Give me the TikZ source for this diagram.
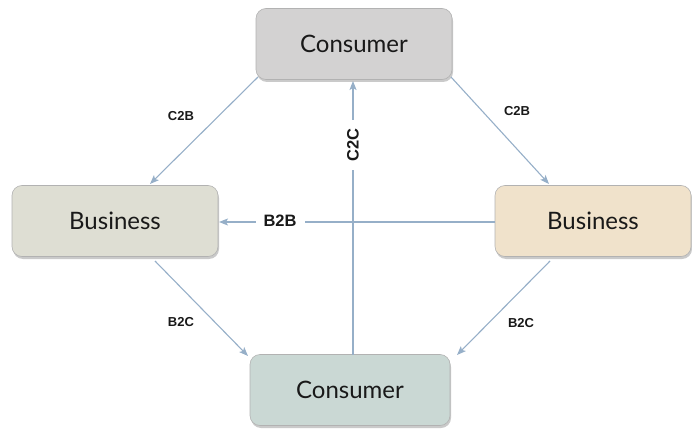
\documentclass[tikz,border=0pt]{standalone}
\usepackage{fontspec}
\setmainfont{Lato}
\newfontfamily\lblfont{Liberation Sans}
\usetikzlibrary{arrows.meta,shadows}
\definecolor{arrc}{RGB}{150,175,200}
\definecolor{topc}{RGB}{211,210,210}
\definecolor{lbc}{RGB}{222,222,211}
\definecolor{rbc}{RGB}{240,226,203}
\definecolor{bcc}{RGB}{202,216,212}
\tikzset{
  box/.style={rounded corners=10pt, draw=black!30, line width=0.6pt, minimum width=196pt, minimum height=71pt,
    font=\fontsize{24}{28}\selectfont, text=black!90,
    drop shadow={shadow xshift=1pt, shadow yshift=-2.5pt, opacity=0.35, fill=black!60}},
  arr/.style={draw=arrc, line width=1.1pt, -{Stealth[length=9pt,width=7pt,inset=2pt]}},
  sml/.style={font=\lblfont\bfseries\fontsize{13}{15}\selectfont, text=black!90},
  big/.style={font=\lblfont\bfseries\fontsize{16.5}{19}\selectfont, fill=white, text=black!90}
}
\begin{document}
\begin{tikzpicture}[x=1pt,y=-1pt]
\useasboundingbox (0,0) rectangle (692,430);
\node[box, fill=topc] (tc) at (354,44) {Consumer};
\node[box, fill=lbc, minimum width=206pt] (lb) at (115,221) {Business};
\node[box, fill=rbc] (rb) at (593,221) {Business};
\node[box, fill=bcc, minimum width=200pt] (bc) at (350,390) {Consumer};
\coordinate (tcl) at (258,77);
\coordinate (tcr) at (451,77);
\coordinate (lbt) at (150,184);
\coordinate (rbt) at (549,184);
\coordinate (lbb) at (155,261);
\coordinate (rbb) at (550,261);
\coordinate (bcl) at (248,356);
\coordinate (bcr) at (457,355);
\draw[arr] (tcl) -- (lbt);
\draw[arr] (tcr) -- (rbt);
\draw[arr] (lbb) -- (bcl);
\draw[arr] (rbb) -- (bcr);
\node[sml] (c2bl) at (181,116) {C2B};
\node[sml] (c2br) at (517,111) {C2B};
\node[sml] (b2cl) at (181,322) {B2C};
\node[sml] (b2cr) at (521,323) {B2C};
\coordinate (cb) at (353,355);
\coordinate (ct) at (353,81);
\draw[arr] (cb) -- (ct);
\node[big, rotate=90, inner xsep=8pt, inner ysep=3pt] (c2c) at (353,145) {C2C};
\coordinate (bbr) at (495,222);
\coordinate (bbl) at (219,222);
\draw[arr] (bbr) -- (bbl);
\node[big, inner xsep=8pt, inner ysep=3pt] (b2b) at (280,221) {B2B};
\end{tikzpicture}
\end{document}
